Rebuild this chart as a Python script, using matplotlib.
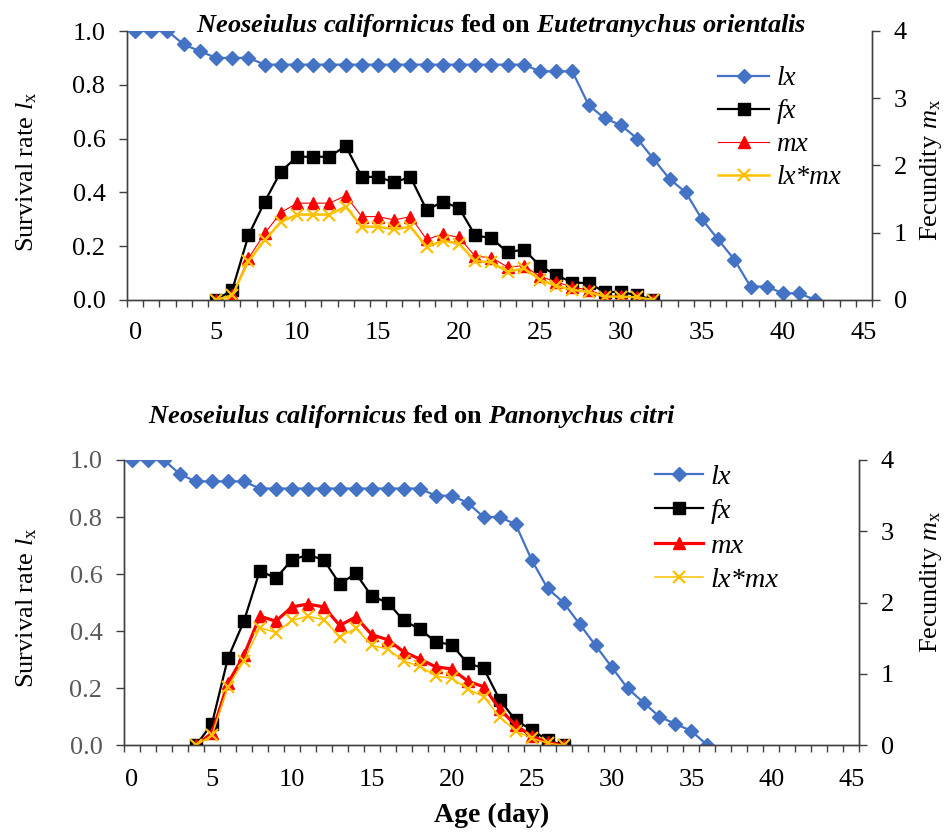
import numpy as np
import matplotlib
matplotlib.use("Agg")
import matplotlib.pyplot as plt
from matplotlib.ticker import FormatStrFormatter

plt.rcParams['font.family'] = 'Liberation Serif'
plt.rcParams['mathtext.fontset'] = 'custom'
plt.rcParams['mathtext.rm'] = 'Liberation Serif'
plt.rcParams['mathtext.it'] = 'Liberation Serif:italic'
plt.rcParams['mathtext.bf'] = 'Liberation Serif:bold'
plt.rcParams['mathtext.bfit'] = 'Liberation Serif:italic:bold'

# --- top panel: fed on Eutetranychus orientalis ---
top_lx_days = np.arange(0, 43)
top_lx = [1.0, 1.0, 1.0, 0.95, 0.925, 0.9, 0.9, 0.9,
          0.875, 0.875, 0.875, 0.875, 0.875, 0.875, 0.875, 0.875, 0.875,
          0.875, 0.875, 0.875, 0.875, 0.875, 0.875, 0.875, 0.875,
          0.85, 0.85, 0.85, 0.725, 0.675, 0.65, 0.6, 0.525, 0.45, 0.4,
          0.3, 0.225, 0.15, 0.05, 0.05, 0.025, 0.025, 0.0]
top_rep_days = np.arange(5, 33)
top_fx = [0.0, 0.15, 0.96, 1.46, 1.91, 2.13, 2.13, 2.13, 2.29, 1.83, 1.83, 1.75,
          1.83, 1.34, 1.46, 1.37, 0.96, 0.92, 0.71, 0.75, 0.51, 0.37, 0.26,
          0.25, 0.12, 0.12, 0.07, 0.0]
top_mx = [0.0, 0.07, 0.62, 0.99, 1.30, 1.44, 1.44, 1.44, 1.55, 1.24, 1.24, 1.19,
          1.24, 0.90, 0.98, 0.93, 0.65, 0.63, 0.49, 0.51, 0.35, 0.27, 0.19,
          0.15, 0.06, 0.06, 0.04, 0.0]
top_lxmx = [0.0, 0.07, 0.58, 0.89, 1.16, 1.27, 1.27, 1.27, 1.39, 1.09, 1.09, 1.05,
            1.09, 0.79, 0.88, 0.84, 0.58, 0.56, 0.42, 0.47, 0.30, 0.21, 0.15,
            0.12, 0.05, 0.05, 0.04, 0.0]

# --- bottom panel: fed on Panonychus citri ---
bot_lx_days = np.arange(0, 37)
bot_lx = [1.0, 1.0, 1.0, 0.95, 0.925, 0.925, 0.925, 0.925,
          0.9, 0.9, 0.9, 0.9, 0.9, 0.9, 0.9, 0.9, 0.9, 0.9, 0.9,
          0.875, 0.875, 0.85, 0.8, 0.8, 0.775, 0.65, 0.55, 0.5, 0.425,
          0.35, 0.275, 0.2, 0.15, 0.1, 0.075, 0.05, 0.0]
bot_rep_days = np.arange(4, 28)
bot_fx = [0.0, 0.30, 1.22, 1.74, 2.45, 2.34, 2.60, 2.67, 2.60, 2.26, 2.41, 2.09,
          2.00, 1.75, 1.63, 1.45, 1.41, 1.15, 1.08, 0.64, 0.35, 0.22, 0.07, 0.0]
bot_mx = [0.0, 0.17, 0.87, 1.26, 1.81, 1.74, 1.94, 1.98, 1.94, 1.68, 1.80, 1.55,
          1.48, 1.31, 1.21, 1.10, 1.07, 0.90, 0.82, 0.51, 0.28, 0.13, 0.04, 0.0]
bot_lxmx = [0.0, 0.14, 0.82, 1.18, 1.65, 1.58, 1.75, 1.81, 1.76, 1.52, 1.64, 1.40,
            1.35, 1.18, 1.11, 0.97, 0.94, 0.79, 0.68, 0.40, 0.20, 0.10, 0.03, 0.0]

xticks = np.arange(0, 46, 5)
lx_ticks = np.arange(0, 1.01, 0.2)
mx_ticks = np.arange(0, 5)

W, H = 947, 832
fig = plt.figure(figsize=(W / 100, H / 100), dpi=100)

blue = '#4472C4'
gold = '#FFC000'
spine_c = '#404040'
FS = 19


def panel(px, lx_days, lx, rep_days, fx, mx, lxmx, mx_lw, lxmx_lw, ytick_c,
          leg_xy, leg_fs, leg_hl, ylab_y, ylab2_y, xpad):
    left, right, top, bottom = px
    ax = fig.add_axes([left / W, 1 - bottom / H, (right - left) / W, (bottom - top) / H])
    ax2 = ax.twinx()
    h1, = ax.plot(lx_days, lx, color=blue, lw=1.6, marker='D', ms=7, label='lx')
    h2, = ax2.plot(rep_days, fx, color='black', lw=1.6, marker='s', ms=8.5, label='fx')
    h3, = ax2.plot(rep_days, mx, color='red', lw=mx_lw, marker='^', ms=8, label='mx')
    h4, = ax2.plot(rep_days, lxmx, color=gold, lw=lxmx_lw, marker='x', ms=8, mew=1.6, label='lx*mx')

    ax.set_xlim(-0.5, 45.5)
    ax.set_ylim(0, 1)
    ax2.set_ylim(0, 4)
    ax.set_xticks(xticks)
    ax.set_xticks(np.arange(-0.5, 46, 1), minor=True)
    ax.set_yticks(lx_ticks)
    ax.yaxis.set_major_formatter(FormatStrFormatter('%.1f'))
    ax2.set_yticks(mx_ticks)
    ax.tick_params(axis='x', which='major', length=0, pad=xpad, labelsize=FS)
    ax.tick_params(axis='x', which='minor', length=5, width=1, color=spine_c, direction='out')
    ax.tick_params(axis='y', length=5.5, width=1, color=spine_c, pad=10, labelsize=FS, labelcolor=ytick_c)
    ax2.tick_params(axis='y', length=5.5, width=1, color=spine_c, pad=10, labelsize=FS)
    for a in (ax, ax2):
        a.spines['top'].set_visible(False)
        for s in ('left', 'right', 'bottom'):
            a.spines[s].set_color(spine_c)
            a.spines[s].set_linewidth(1)

    fig.text(27 / W, 1 - ylab_y / H, r'Survival rate $l_{\mathrm{x}}$', rotation=90,
             ha='center', va='center', fontsize=FS)
    fig.text(931 / W, 1 - ylab2_y / H, r'Fecundity $m_{\mathrm{x}}$', rotation=90,
             ha='center', va='center', fontsize=FS)

    ax2.legend([h1, h2, h3, h4], ['lx', 'fx', 'mx', 'lx*mx'],
               loc='upper left', bbox_to_anchor=leg_xy,
               bbox_transform=fig.transFigure, frameon=False,
               prop={'family': 'Liberation Serif', 'style': 'italic', 'size': leg_fs},
               handlelength=leg_hl, handletextpad=0.25, labelspacing=0.3,
               borderpad=0, borderaxespad=0)
    return ax, ax2


panel((127, 872, 31, 300), top_lx_days, top_lx, top_rep_days, top_fx, top_mx, top_lxmx,
      0.8, 1.8, 'black', (718 / W, 1 - 66 / H), 19.5, 1.9, 172, 170, 16)
panel((124, 859.3, 460, 745.3), bot_lx_days, bot_lx, bot_rep_days, bot_fx, bot_mx, bot_lxmx,
      2.3, 1.1, '#595959', (655 / W, 1 - 464 / H), 20.5, 1.7, 608, 582, 17)

fig.text(501 / W, 1 - 32 / H,
         r'$\mathbfit{Neoseiulus}$ $\mathbfit{californicus}$ fed on '
         r'$\mathbfit{Eutetranychus}$ $\mathbfit{orientalis}$',
         ha='center', va='baseline', fontsize=FS, fontweight='bold')
fig.text(148 / W, 1 - 423 / H,
         r'$\mathbfit{Neoseiulus}$ $\mathbfit{californicus}$ fed on '
         r'$\mathbfit{Panonychus}$ $\mathbfit{citri}$',
         ha='left', va='baseline', fontsize=FS, fontweight='bold')
fig.text(491.5 / W, 1 - 822 / H, 'Age (day)', ha='center', va='baseline',
         fontsize=20, fontweight='bold')

fig.savefig('out.png', dpi=100)
